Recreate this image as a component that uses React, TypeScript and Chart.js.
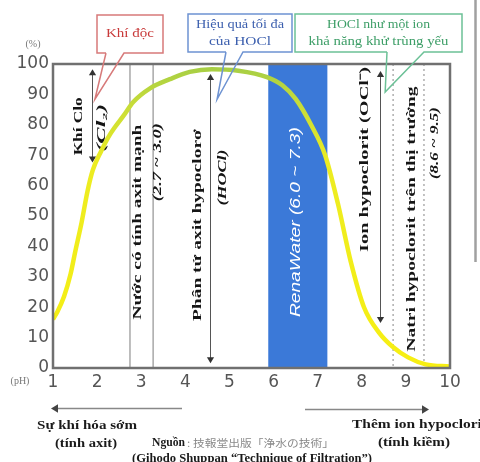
import { useEffect, useRef } from "react";
import { Chart, registerables } from "chart.js";
Chart.register(...registerables);

// pH on the x axis, % of HOCl on the y axis
const phValues = [1.0, 1.1, 1.25, 1.4, 1.5, 1.65, 1.78, 1.9, 2.08, 2.3, 2.6, 2.82, 3.2, 3.65, 4.1, 4.6, 5.2, 5.85, 6.2, 6.5, 6.85, 7.17, 7.46, 7.75, 8.05, 8.4, 8.7, 9.05, 9.45, 10.0];
const hoclPercent = [16, 18.5, 23.5, 31, 38, 48, 58, 65, 71, 77, 83, 87.5, 92, 95, 97.4, 98.3, 97.8, 95.7, 93, 88.5, 80, 70, 54, 35, 20, 11.5, 7, 3.5, 1.2, 0.5];
const xTickValues = [1, 2, 3, 4, 5, 6, 7, 8, 9, 10];
const yTickValues = [0, 10, 20, 30, 40, 50, 60, 70, 80, 90, 100];
const renaWaterRange = [5.88, 7.22];
const solidLinePh = [2.745, 3.27];
const dottedLinePh = [8.71, 9.41];
const arrowLinePh = [1.88, 4.56, 8.41];
const arrowLineTop = [98.3, 96.7, 97.7];
const arrowLineBottom = [67.6, 1.6, 14.8];

const SERIF = '"Liberation Serif", "Times New Roman", serif';
const SANS = '"Liberation Sans", Arial, sans-serif';
const TICKFONT = '"DejaVu Sans", sans-serif';

const rotatedLabels = [
  { text: "Khí Clo", ph: 1.57, pct: 79.5, len: 58, font: `bold 13px ${SERIF}`, color: "#151515" },
  { text: "(Cl₂)", ph: 2.11, pct: 79, len: 48, font: `italic bold 12px ${SERIF}`, color: "#151515" },
  { text: "Nước có tính axit mạnh", ph: 2.93, pct: 48, len: 195, font: `bold 13px ${SERIF}`, color: "#151515" },
  { text: "(2.7 ~ 3.0)", ph: 3.38, pct: 67.7, len: 78, font: `italic bold 12px ${SERIF}`, color: "#151515" },
  { text: "Phân tử axit hypoclorơ", ph: 4.27, pct: 47, len: 192, font: `bold 13px ${SERIF}`, color: "#151515" },
  { text: "(HOCl)", ph: 4.85, pct: 62.7, len: 56, font: `italic bold 12px ${SERIF}`, color: "#151515" },
  { text: "RenaWater (6.0 ~ 7.3)", ph: 6.51, pct: 48, len: 190, font: `italic 14px ${SANS}`, color: "#ffffff" },
  { text: "Ion hypoclorit (OCl⁻)", ph: 8.07, pct: 68.6, len: 185, font: `bold 13px ${SERIF}`, color: "#151515" },
  { text: "Natri hypoclorit trên thị trường", ph: 9.14, pct: 49, len: 265, font: `bold 13px ${SERIF}`, color: "#151515" },
  { text: "(8.6 ~ 9.5)", ph: 9.66, pct: 74, len: 72, font: `italic bold 12px ${SERIF}`, color: "#151515" },
];

const callouts = [
  { lines: ["Khí độc"], widths: [48], box: [97, 15, 163, 53], base: [106, 124], tipPh: 1.95, tipPct: 88.4, stroke: "#d77a7a", color: "#c83a3a", font: `13px ${SERIF}` },
  { lines: ["Hiệu quả tối đa", "của HOCl"], widths: [88, 62], box: [188, 14, 292, 52], base: [226, 243], tipPh: 4.72, tipPct: 88.4, stroke: "#6e93d2", color: "#3c5fae", font: `12px ${SERIF}` },
  { lines: ["HOCl như một ion", "khả năng khử trùng yếu"], widths: [103, 140], box: [295, 14, 462, 52], base: [387, 424], tipPh: 8.53, tipPct: 90.8, stroke: "#6cc197", color: "#3d9e67", font: `12px ${SERIF}` },
];

function fillTextWidth(ctx: CanvasRenderingContext2D, text: string, x: number, y: number, width: number, align: "left" | "center") {
  ctx.save();
  const w = ctx.measureText(text).width;
  const s = width / w;
  ctx.translate(x, y);
  ctx.scale(s, 1);
  ctx.textAlign = align;
  ctx.fillText(text, 0, 0);
  ctx.restore();
}

function drawRotated(ctx: CanvasRenderingContext2D, text: string, cx: number, cy: number, font: string, color: string, len: number) {
  ctx.save();
  ctx.translate(cx, cy);
  ctx.rotate(-Math.PI / 2);
  ctx.font = font;
  ctx.fillStyle = color;
  ctx.textAlign = "center";
  ctx.textBaseline = "middle";
  const w = ctx.measureText(text).width;
  ctx.scale(len / w, 1);
  ctx.fillText(text, 0, 0);
  ctx.restore();
}

function arrowHead(ctx: CanvasRenderingContext2D, x: number, y: number, dir: "up" | "down" | "left" | "right", size = 5) {
  ctx.beginPath();
  if (dir === "up") { ctx.moveTo(x, y); ctx.lineTo(x - size * 0.6, y + size); ctx.lineTo(x + size * 0.6, y + size); }
  if (dir === "down") { ctx.moveTo(x, y); ctx.lineTo(x - size * 0.6, y - size); ctx.lineTo(x + size * 0.6, y - size); }
  if (dir === "left") { ctx.moveTo(x, y); ctx.lineTo(x + size, y - size * 0.6); ctx.lineTo(x + size, y + size * 0.6); }
  if (dir === "right") { ctx.moveTo(x, y); ctx.lineTo(x - size, y - size * 0.6); ctx.lineTo(x - size, y + size * 0.6); }
  ctx.closePath();
  ctx.fill();
}

const decorPlugin = {
  id: "decor",
  beforeDatasetsDraw(chart: any) {
    const { ctx, chartArea: a, scales } = chart;
    const xs = scales.x, ys = scales.y;
    ctx.save();
    const bx0 = xs.getPixelForValue(renaWaterRange[0]);
    const bx1 = xs.getPixelForValue(renaWaterRange[1]);
    ctx.fillStyle = "#3b79d8";
    ctx.fillRect(bx0, a.top, bx1 - bx0, a.bottom - a.top);
    ctx.strokeStyle = "#a8a8a8";
    ctx.lineWidth = 1.5;
    solidLinePh.forEach((p) => {
      const x = xs.getPixelForValue(p);
      ctx.beginPath(); ctx.moveTo(x, a.top); ctx.lineTo(x, a.bottom); ctx.stroke();
    });
    ctx.setLineDash([2, 3]);
    ctx.strokeStyle = "#9a9a9a";
    ctx.lineWidth = 1.2;
    dottedLinePh.forEach((p) => {
      const x = xs.getPixelForValue(p);
      ctx.beginPath(); ctx.moveTo(x, a.top); ctx.lineTo(x, a.bottom); ctx.stroke();
    });
    ctx.setLineDash([]);
    ctx.strokeStyle = "#555";
    ctx.fillStyle = "#333";
    ctx.lineWidth = 1;
    arrowLinePh.forEach((p, i) => {
      const x = Math.round(xs.getPixelForValue(p)) + 0.5;
      const y0 = ys.getPixelForValue(arrowLineTop[i]);
      const y1 = ys.getPixelForValue(arrowLineBottom[i]);
      ctx.beginPath(); ctx.moveTo(x, y0 + 2); ctx.lineTo(x, y1 - 2); ctx.stroke();
      arrowHead(ctx, x, y0, "up", 6);
      arrowHead(ctx, x, y1, "down", 6);
    });
    rotatedLabels.forEach((l) => {
      drawRotated(ctx, l.text, xs.getPixelForValue(l.ph), ys.getPixelForValue(l.pct), l.font, l.color, l.len);
    });
    ctx.restore();
  },
  afterDraw(chart: any) {
    const { ctx, chartArea: a, scales } = chart;
    const xs = scales.x, ys = scales.y;
    ctx.save();
    ctx.strokeStyle = "#707070";
    ctx.lineWidth = 2.5;
    ctx.strokeRect(a.left, a.top, a.right - a.left, a.bottom - a.top);
    ctx.strokeStyle = "#a0a0a0";
    ctx.lineWidth = 2.5;
    ctx.beginPath(); ctx.moveTo(475.5, 0); ctx.lineTo(475.5, 262); ctx.stroke();
    callouts.forEach((c) => {
      const [x0, y0, x1, y1] = c.box;
      const tx = xs.getPixelForValue(c.tipPh);
      const ty = ys.getPixelForValue(c.tipPct);
      ctx.fillStyle = "#fff";
      ctx.fillRect(x0, y0, x1 - x0, y1 - y0);
      ctx.strokeStyle = c.stroke;
      ctx.lineWidth = 1.5;
      ctx.beginPath();
      ctx.moveTo(c.base[0], y1);
      ctx.lineTo(x0, y1); ctx.lineTo(x0, y0); ctx.lineTo(x1, y0); ctx.lineTo(x1, y1);
      ctx.lineTo(c.base[1], y1);
      ctx.lineTo(tx, ty);
      ctx.lineTo(c.base[0], y1);
      ctx.stroke();
      ctx.fillStyle = c.color;
      ctx.font = c.font;
      ctx.textBaseline = "middle";
      const cx = (x0 + x1) / 2;
      const cy = (y0 + y1) / 2;
      const lh = 17;
      c.lines.forEach((t, i) => {
        fillTextWidth(ctx, t, cx, cy + (i - (c.lines.length - 1) / 2) * lh, c.widths[i], "center");
      });
    });
    ctx.fillStyle = "#777";
    ctx.font = `10px ${SERIF}`;
    ctx.textAlign = "center";
    ctx.textBaseline = "middle";
    ctx.fillText("(%)", 33, 44);
    ctx.fillText("(pH)", 20, 381);
    ctx.strokeStyle = "#888";
    ctx.fillStyle = "#444";
    ctx.lineWidth = 1.3;
    ctx.beginPath(); ctx.moveTo(56, 408.5); ctx.lineTo(182, 408.5); ctx.stroke();
    arrowHead(ctx, 51, 408.5, "left", 7);
    ctx.beginPath(); ctx.moveTo(305, 409.5); ctx.lineTo(424, 409.5); ctx.stroke();
    arrowHead(ctx, 429, 409.5, "right", 7);
    ctx.fillStyle = "#1a1a1a";
    ctx.font = `bold 13px ${SERIF}`;
    fillTextWidth(ctx, "Sự khí hóa sớm", 87, 426, 100, "center");
    fillTextWidth(ctx, "(tính axit)", 86, 444, 62, "center");
    fillTextWidth(ctx, "Thêm ion hypoclorit", 352, 425, 135, "left");
    fillTextWidth(ctx, "(tính kiềm)", 414, 443, 72, "center");
    fillTextWidth(ctx, "Nguồn", 152, 443, 33, "left");
    ctx.fillStyle = "#8a8a8a";
    ctx.font = `10px "Noto Sans CJK JP", ${SERIF}`;
    fillTextWidth(ctx, ": 技報堂出版「浄水の技術」", 187, 443, 147, "left");
    ctx.fillStyle = "#1a1a1a";
    ctx.font = `bold 12px ${SERIF}`;
    fillTextWidth(ctx, "(Gihodo Shuppan \u201cTechnique of Filtration\u201d)", 132, 459, 240, "left");
    ctx.restore();
  },
};

export default function App() {
  const ref = useRef<HTMLCanvasElement | null>(null);
  useEffect(() => {
    document.body.style.margin = "0";
    const canvas = ref.current;
    if (!canvas) return;
    const chart = new Chart(canvas, {
      type: "line",
      data: {
        datasets: [
          {
            data: phValues.map((p, i) => ({ x: p, y: hoclPercent[i] })),
            borderColor: (c: any) => {
              const { chart: ch } = c;
              const area = ch.chartArea;
              if (!area) return "#f0ee20";
              const g = ch.ctx.createLinearGradient(0, area.top, 0, area.bottom);
              g.addColorStop(0, "#a4cd46");
              g.addColorStop(0.12, "#c4db3a");
              g.addColorStop(0.32, "#ecec22");
              g.addColorStop(1, "#f7ef12");
              return g;
            },
            borderWidth: 4.5,
            pointRadius: 0,
            cubicInterpolationMode: "monotone",
            fill: false,
          } as any,
        ],
      },
      options: {
        animation: false,
        responsive: false,
        maintainAspectRatio: false,
        layout: { padding: { top: 64, right: 30, bottom: 64, left: 0 } },
        plugins: { legend: { display: false }, tooltip: { enabled: false } },
        scales: {
          x: {
            type: "linear",
            min: 1,
            max: 10,
            afterFit: (s: any) => { s.height = 30; },
            afterBuildTicks: (s: any) => { s.ticks = xTickValues.map((v) => ({ value: v })); },
            grid: { display: false, drawTicks: false },
            border: { display: false },
            ticks: { padding: 4, color: "#555", font: { family: TICKFONT, size: 17 } },
          },
          y: {
            min: 0,
            max: 100,
            afterFit: (s: any) => { s.width = 53; },
            afterBuildTicks: (s: any) => { s.ticks = yTickValues.map((v) => ({ value: v })); },
            grid: { display: false, drawTicks: false },
            border: { display: false },
            ticks: { padding: 4, color: "#555", font: { family: TICKFONT, size: 17 } },
          },
        },
      },
      plugins: [decorPlugin],
    });
    return () => chart.destroy();
  }, []);
  return <canvas ref={ref} width={480} height={462} style={{ display: "block" }} />;
}
